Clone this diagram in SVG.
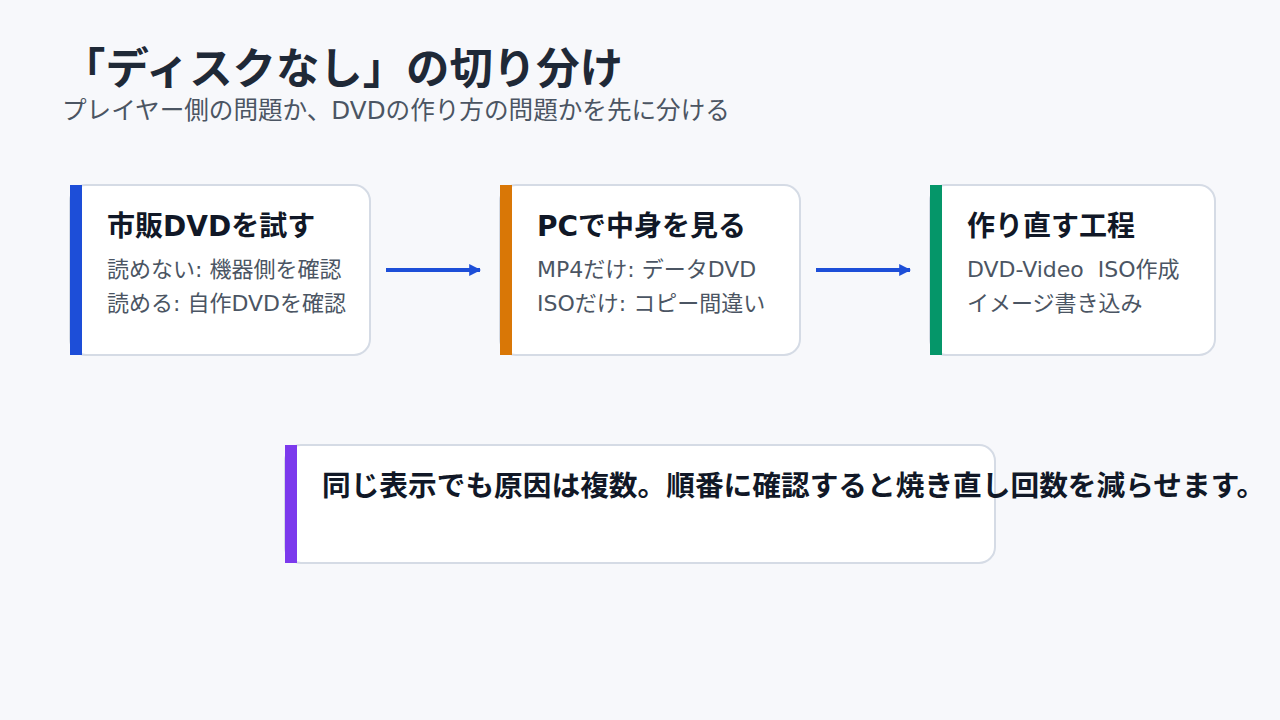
<svg xmlns="http://www.w3.org/2000/svg" width="1280" height="720" viewBox="0 0 1280 720">
<defs>
<style>
text{font-family:"DejaVu Sans","Noto Sans CJK JP",sans-serif}
.card{fill:#fff;stroke:#d5dbe5;stroke-width:2}
.h{font-size:28px;font-weight:bold;fill:#111827}
.b{font-size:22px;fill:#4b5563}
.conn{stroke:#1d4ed8;stroke-width:4;fill:none}
</style>
<marker id="ah" viewBox="0 0 10 10" refX="9" refY="5" markerWidth="3" markerHeight="3" orient="auto"><path d="M0,0L10,5L0,10z" fill="#1d4ed8"/></marker>
</defs>
<rect width="1280" height="720" fill="#f7f8fb"/>
<text x="62" y="84" font-size="43.4" font-weight="bold" fill="#1f2937">「ディスクなし」の切り分け</text>
<text x="62" y="119" font-size="24.6" fill="#4b5563">プレイヤー側の問題か、DVDの作り方の問題かを先に分ける</text>
<g id="n1"><rect class="card" x="70" y="185" width="300" height="170" rx="16"/><rect x="70" y="185" width="12" height="170" fill="#1d4ed8"/>
<text class="h" x="107" y="236">市販DVDを試す</text><text class="b" x="107" y="277">読めない: 機器側を確認</text><text class="b" x="107" y="311">読める: 自作DVDを確認</text></g>
<g id="n2"><rect class="card" x="500" y="185" width="300" height="170" rx="16"/><rect x="500" y="185" width="12" height="170" fill="#d97706"/>
<text class="h" x="537" y="236">PCで中身を見る</text><text class="b" x="537" y="277">MP4だけ: データDVD</text><text class="b" x="537" y="311">ISOだけ: コピー間違い</text></g>
<g id="n3"><rect class="card" x="930" y="185" width="285" height="170" rx="16"/><rect x="930" y="185" width="12" height="170" fill="#059669"/>
<text class="h" x="967" y="236">作り直す工程</text><text class="b" x="967" y="277" xml:space="preserve">DVD-Video  ISO作成</text><text class="b" x="967" y="311">イメージ書き込み</text></g>
<g id="n4"><rect class="card" x="285" y="445" width="710" height="118" rx="16"/><rect x="285" y="445" width="12" height="118" fill="#7c3aed"/>
<text class="h" x="322" y="496" style="font-size:28.7px">同じ表示でも原因は複数。順番に確認すると焼き直し回数を減らせます。</text></g>
<g id="connectors"><line class="conn" x1="386" y1="270" x2="480" y2="270" marker-end="url(#ah)"/><line class="conn" x1="816" y1="270" x2="910" y2="270" marker-end="url(#ah)"/></g>
</svg>
